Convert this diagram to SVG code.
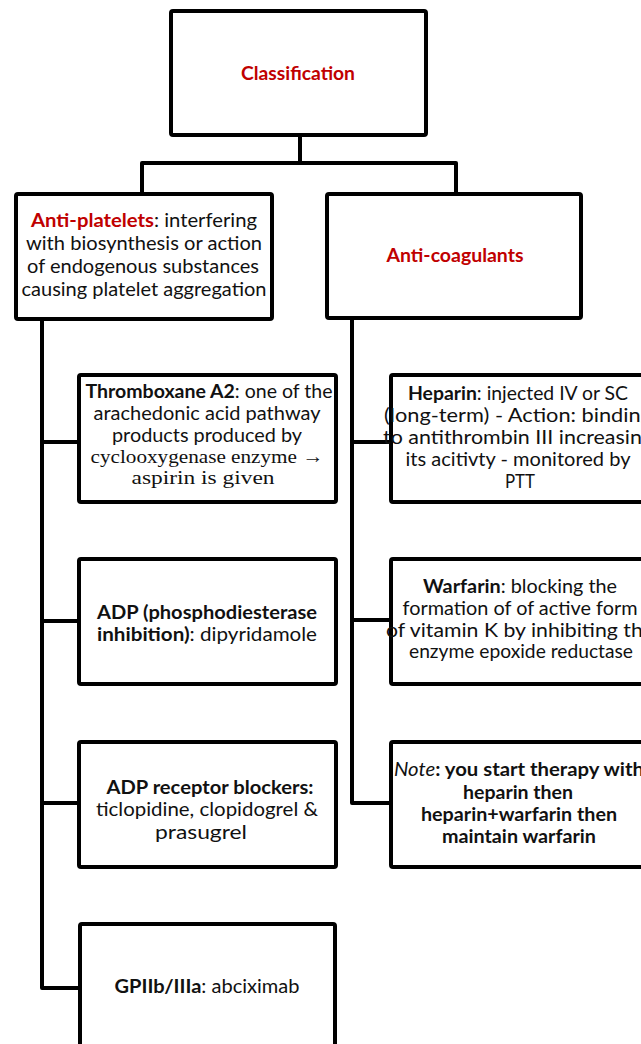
<svg xmlns="http://www.w3.org/2000/svg" width="641" height="1044" viewBox="0 0 641 1044">
<style>
.box{fill:#fff;stroke:#000;stroke-width:4}
.con{fill:none;stroke:#000;stroke-width:4;stroke-linejoin:round}
text{font-family:Lato,"Open Sans","Liberation Sans",sans-serif;font-size:19.5px;fill:#111;text-anchor:middle}
.red{fill:#c00000;font-weight:bold}
.b{font-weight:bold}
.i{font-style:italic;font-weight:normal}
.serif{font-family:"Liberation Serif",serif}
</style>
<rect width="641" height="1044" fill="#fff"/>
<g id="connectors">
<path class="con" d="M300 137V163M142 192V163H456V192"/>
<path class="con" d="M42 321V988H79M42 442H79M42 621H79M42 803H79"/>
<path class="con" d="M352 320V803H391M352 442H391M352 620H391"/>
</g>
<g id="classification">
<rect class="box" x="171" y="11" width="255" height="124" rx="2"/>
<text class="red" x="298" y="80" textLength="114" lengthAdjust="spacingAndGlyphs">Classification</text>
</g>
<g id="antiplatelets">
<rect class="box" x="16" y="194" width="256" height="125" rx="2"/>
<text x="144" y="227" textLength="226" lengthAdjust="spacingAndGlyphs"><tspan class="red">Anti-platelets</tspan>: interfering</text>
<text x="144" y="250" textLength="236" lengthAdjust="spacingAndGlyphs">with biosynthesis or action</text>
<text x="143" y="273" textLength="232" lengthAdjust="spacingAndGlyphs">of endogenous substances</text>
<text x="144" y="296" textLength="245" lengthAdjust="spacingAndGlyphs">causing platelet aggregation</text>
</g>
<g id="anticoagulants">
<rect class="box" x="327" y="194" width="254" height="124" rx="2"/>
<text class="red" x="455" y="262" textLength="137" lengthAdjust="spacingAndGlyphs">Anti-coagulants</text>
</g>
<g id="thromboxane">
<rect class="box" x="79" y="375" width="257" height="127" rx="2"/>
<text x="209" y="398" textLength="247" lengthAdjust="spacingAndGlyphs"><tspan class="b">Thromboxane A2</tspan>: one of the</text>
<text x="207" y="420" textLength="227" lengthAdjust="spacingAndGlyphs">arachedonic acid pathway</text>
<text x="207" y="442" textLength="190" lengthAdjust="spacingAndGlyphs">products produced by</text>
<text class="serif" x="207" y="463" textLength="233" lengthAdjust="spacingAndGlyphs">cyclooxygenase enzyme →</text>
<text class="serif" x="203" y="484" textLength="143" lengthAdjust="spacingAndGlyphs">aspirin is given</text>
</g>
<g id="heparin">
<rect class="box" x="391" y="375" width="260" height="127" rx="2"/>
<text x="518" y="400" textLength="220" lengthAdjust="spacingAndGlyphs"><tspan class="b">Heparin</tspan>: injected IV or SC</text>
<text x="518" y="422" textLength="268" lengthAdjust="spacingAndGlyphs">(long-term) - Action: binding</text>
<text x="518" y="444" textLength="270" lengthAdjust="spacingAndGlyphs">to antithrombin III increasing</text>
<text x="518" y="466" textLength="225" lengthAdjust="spacingAndGlyphs">its acitivty - monitored by</text>
<text x="520" y="488" textLength="30" lengthAdjust="spacingAndGlyphs">PTT</text>
</g>
<g id="adp">
<rect class="box" x="79" y="559" width="257" height="125" rx="2"/>
<text x="207" y="619" textLength="220" lengthAdjust="spacingAndGlyphs"><tspan class="b">ADP (phosphodiesterase</tspan></text>
<text x="207" y="641" textLength="220" lengthAdjust="spacingAndGlyphs"><tspan class="b">inhibition)</tspan>: dipyridamole</text>
</g>
<g id="warfarin">
<rect class="box" x="391" y="559" width="260" height="125" rx="2"/>
<text x="520" y="593" textLength="194" lengthAdjust="spacingAndGlyphs"><tspan class="b">Warfarin</tspan>: blocking the</text>
<text x="520" y="615" textLength="235" lengthAdjust="spacingAndGlyphs">formation of of active form</text>
<text x="520" y="637" textLength="268" lengthAdjust="spacingAndGlyphs">of vitamin K by inhibiting the</text>
<text x="521" y="658" textLength="224" lengthAdjust="spacingAndGlyphs">enzyme epoxide reductase</text>
</g>
<g id="adpreceptor">
<rect class="box" x="79" y="742" width="257" height="125" rx="2"/>
<text x="210" y="794" textLength="207" lengthAdjust="spacingAndGlyphs"><tspan class="b">ADP receptor blockers:</tspan></text>
<text x="207" y="816" textLength="222" lengthAdjust="spacingAndGlyphs">ticlopidine,  clopidogrel &amp;</text>
<text x="201" y="839" textLength="92" lengthAdjust="spacingAndGlyphs">prasugrel</text>
</g>
<g id="note">
<rect class="box" x="391" y="742" width="260" height="125" rx="2"/>
<text x="519" y="776" textLength="250" lengthAdjust="spacingAndGlyphs"><tspan class="i">Note</tspan><tspan class="b">: you start therapy with</tspan></text>
<text class="b" x="518" y="799" textLength="110" lengthAdjust="spacingAndGlyphs">heparin then</text>
<text class="b" x="519" y="821" textLength="196" lengthAdjust="spacingAndGlyphs">heparin+warfarin then</text>
<text class="b" x="519" y="843" textLength="154" lengthAdjust="spacingAndGlyphs">maintain warfarin</text>
</g>
<g id="gpiib">
<rect class="box" x="80" y="924" width="255" height="200" rx="2"/>
<text x="207" y="993" textLength="185" lengthAdjust="spacingAndGlyphs"><tspan class="b">GPIIb/IIIa</tspan>: abciximab</text>
</g>
</svg>
